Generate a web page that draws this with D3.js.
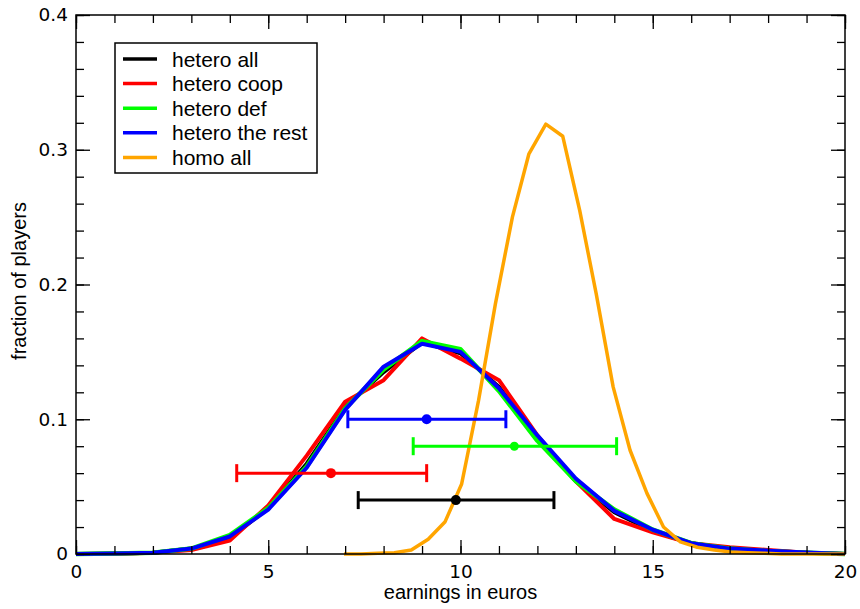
<!DOCTYPE html>
<html>
<head>
<meta charset="utf-8">
<script src="https://cdn.jsdelivr.net/npm/d3@7"></script>
<style>
  html, body { margin: 0; padding: 0; background: #fff; }
  svg { display: block; }
</style>
</head>
<body>
<svg id="chart" width="860" height="609"></svg>
<script>
// ---------------- data ----------------
const xInt = [0,1,2,3,4,5,6,7,8,9,10,11,12,13,14,15,16,17,18,19,20];
const heteroAll   = [0,0.0003,0.001,0.004,0.012,0.034,0.067,0.109,0.135,0.157,0.149,0.124,0.086,0.054,0.031,0.017,0.008,0.004,0.0025,0.001,0];
const heteroCoop  = [0,0,0.001,0.003,0.010,0.036,0.073,0.113,0.129,0.160,0.145,0.129,0.088,0.054,0.026,0.016,0.008,0.005,0.003,0.001,0];
const heteroDef   = [0,0.0003,0.001,0.004,0.014,0.034,0.065,0.108,0.137,0.158,0.152,0.121,0.084,0.054,0.033,0.018,0.008,0.004,0.002,0.001,0];
const heteroRest  = [0,0.0003,0.001,0.004,0.013,0.033,0.064,0.107,0.139,0.156,0.150,0.123,0.088,0.056,0.032,0.018,0.008,0.004,0.0025,0.0012,0];
const homoX   = [6.97,7.41,7.85,8.28,8.72,9.16,9.60,10.03,10.47,10.91,11.35,11.78,12.22,12.66,13.10,13.53,13.97,14.41,14.85,15.28,15.72,16.16,16.60,17.03,17.47,17.91,18.35,18.78,19.22,19.66,20.0];
const homoAll = [0,0,0.0005,0.001,0.003,0.011,0.024,0.052,0.114,0.186,0.250,0.297,0.319,0.310,0.255,0.193,0.124,0.077,0.045,0.020,0.009,0.005,0.003,0.0015,0.001,0.0005,0,0,0,0,0];

// error bars: mean, low, high, level
const barNames  = ["hetero all","hetero coop","hetero def","hetero the rest"];
const barMean   = [9.88, 6.63, 11.40, 9.12];
const barLow    = [7.34, 4.18, 8.77, 7.07];
const barHigh   = [12.43, 9.12, 14.06, 11.18];
const barLevel  = [0.04, 0.06, 0.08, 0.10];

const seriesNames  = ["hetero all","hetero coop","hetero def","hetero the rest","homo all"];
const seriesColors = ["#000000","#ff0000","#00ff00","#0000ff","#ffa500"];

const xMajor = [0,5,10,15,20];
const yMajor = [0,0.1,0.2,0.3,0.4];

// ---------------- chart ----------------
const svg = d3.select("#chart");
const x = d3.scaleLinear().domain([0,20]).range([76,845]);
const y = d3.scaleLinear().domain([0,0.4]).range([554,15]);

const tickFont = "DejaVu Sans, sans-serif";
const textFont = "Liberation Sans, Arial, sans-serif";

// curves
const line = d3.line().x(d => x(d[0])).y(d => y(d[1]));
const curves = [
  {xs: xInt, ys: heteroAll,  c: seriesColors[0], w: 4},
  {xs: xInt, ys: heteroCoop, c: seriesColors[1], w: 4},
  {xs: xInt, ys: heteroDef,  c: seriesColors[2], w: 4.5},
  {xs: xInt, ys: heteroRest, c: seriesColors[3], w: 4},
  {xs: homoX, ys: homoAll,   c: seriesColors[4], w: 3.5}
];
curves.forEach(s => {
  svg.append("path")
    .datum(s.xs.map((v,i) => [v, s.ys[i]]))
    .attr("d", line)
    .attr("fill", "none")
    .attr("stroke", s.c)
    .attr("stroke-width", s.w)
    .attr("stroke-linejoin", "round");
});

// error bars
const barColors = [seriesColors[0], seriesColors[1], seriesColors[2], seriesColors[3]];
barNames.forEach((n,i) => {
  const g = svg.append("g").attr("stroke", barColors[i]).attr("stroke-width", 3);
  const yy = y(barLevel[i]);
  g.append("line").attr("x1", x(barLow[i])).attr("x2", x(barHigh[i])).attr("y1", yy).attr("y2", yy);
  g.append("line").attr("x1", x(barLow[i])).attr("x2", x(barLow[i])).attr("y1", yy-9).attr("y2", yy+9);
  g.append("line").attr("x1", x(barHigh[i])).attr("x2", x(barHigh[i])).attr("y1", yy-9).attr("y2", yy+9);
  svg.append("circle").attr("cx", x(barMean[i])).attr("cy", yy).attr("r", i===2 ? 4.5 : 5)
    .attr("fill", barColors[i]);
});

// axes (inward ticks on all four sides)
function styleAxis(g) {
  g.select(".domain").remove();
  g.selectAll(".tick line").attr("stroke", "#000").attr("stroke-width", 1.3);
  g.selectAll("text").attr("font-family", tickFont).attr("font-size", 18.5).attr("fill", "#000");
}
const xMinor = d3.range(0, 21, 1);
const yMinor = d3.range(0, 0.4001, 0.02);

svg.append("g").attr("transform", "translate(0,554)")
  .call(d3.axisBottom(x).tickValues(xMinor).tickSize(-8).tickFormat(""))
  .call(styleAxis);
svg.append("g").attr("transform", "translate(0,554)")
  .call(d3.axisBottom(x).tickValues(xMajor).tickSize(-14).tickPadding(11).tickFormat(d3.format("d")))
  .call(styleAxis);
svg.append("g").attr("transform", "translate(0,15)")
  .call(d3.axisTop(x).tickValues(xMinor).tickSize(-8).tickFormat(""))
  .call(styleAxis);
svg.append("g").attr("transform", "translate(0,15)")
  .call(d3.axisTop(x).tickValues(xMajor).tickSize(-14).tickFormat(""))
  .call(styleAxis);

svg.append("g").attr("transform", "translate(76,0)")
  .call(d3.axisLeft(y).tickValues(yMinor).tickSize(-8).tickFormat(""))
  .call(styleAxis);
svg.append("g").attr("transform", "translate(76,0)")
  .call(d3.axisLeft(y).tickValues(yMajor).tickSize(-14).tickPadding(8)
    .tickFormat(d => d === 0 ? "0" : d3.format(".1f")(d)))
  .call(styleAxis);
svg.append("g").attr("transform", "translate(845,0)")
  .call(d3.axisRight(y).tickValues(yMinor).tickSize(-8).tickFormat(""))
  .call(styleAxis);
svg.append("g").attr("transform", "translate(845,0)")
  .call(d3.axisRight(y).tickValues(yMajor).tickSize(-14).tickFormat(""))
  .call(styleAxis);

// frame
svg.append("rect")
  .attr("x", x(0)).attr("y", y(0.4))
  .attr("width", x(20)-x(0)).attr("height", y(0)-y(0.4))
  .attr("fill", "none").attr("stroke", "#000").attr("stroke-width", 1.5);

// axis titles
svg.append("text")
  .attr("x", (x(0)+x(20))/2).attr("y", 599)
  .attr("text-anchor", "middle")
  .attr("font-family", textFont).attr("font-size", 20)
  .text("earnings in euros");
svg.append("text")
  .attr("transform", "translate(26," + 281 + ") rotate(-90)")
  .attr("text-anchor", "middle")
  .attr("font-family", textFont).attr("font-size", 20)
  .text("fraction of players");

// legend
const lg = svg.append("g");
lg.append("rect").attr("x", 115).attr("y", 43).attr("width", 202).attr("height", 130)
  .attr("fill", "#fff").attr("stroke", "#000").attr("stroke-width", 1.5);
seriesNames.forEach((n,i) => {
  const ly = 59 + i*24.6;
  lg.append("line").attr("x1", 123).attr("x2", 157).attr("y1", ly).attr("y2", ly)
    .attr("stroke", seriesColors[i]).attr("stroke-width", 3.5);
  lg.append("text").attr("x", 172).attr("y", ly + 7.5)
    .attr("font-family", textFont).attr("font-size", 21)
    .text(n);
});
</script>
</body>
</html>
